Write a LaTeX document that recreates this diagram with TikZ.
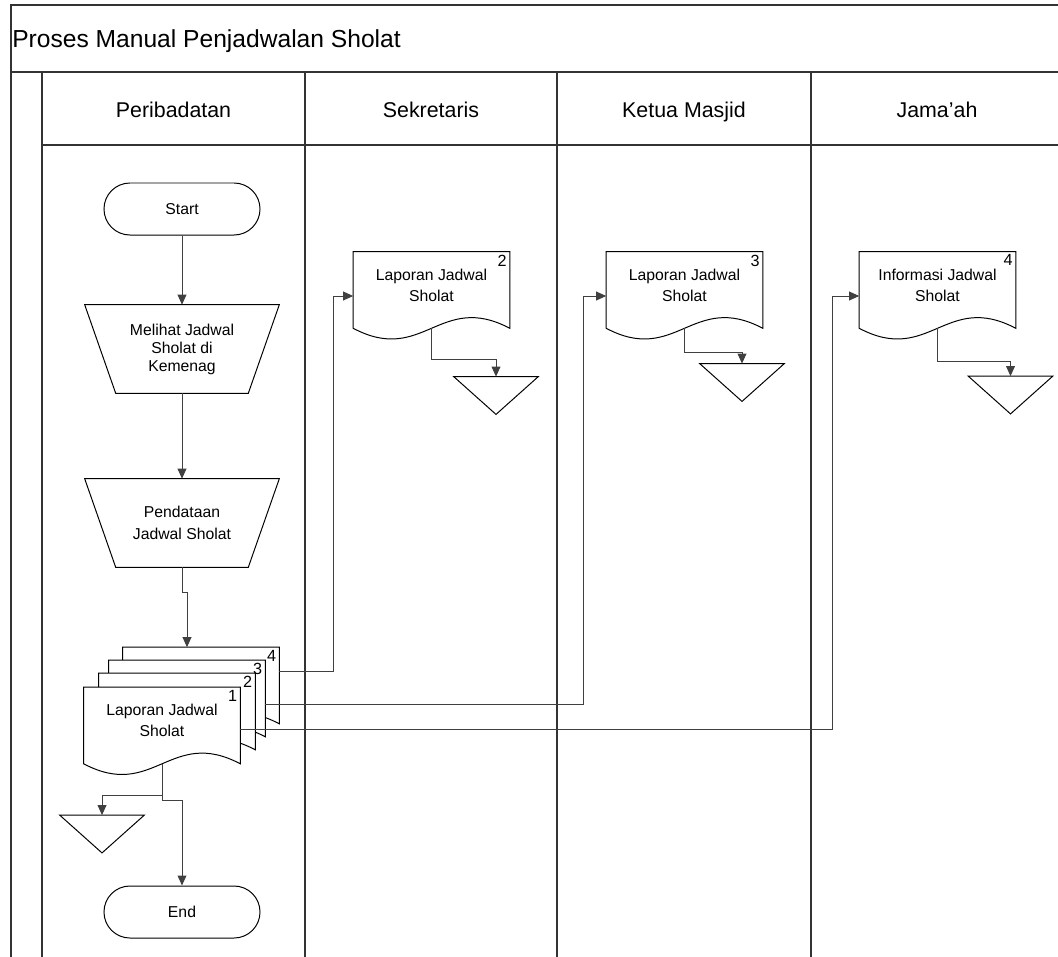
\documentclass[tikz,border=0pt]{standalone}
\usepackage{fontspec}
\setmainfont{Liberation Sans}
\usetikzlibrary{arrows.meta,backgrounds}

\begin{document}
\begin{tikzpicture}[x=0.025cm, y=-0.025cm,
    terminal/.style={
        rectangle,
        rounded corners=0.65cm,
        draw,
        line width=0.7pt,
        minimum width=3.9cm,
        minimum height=1.3cm,
        font=\fontsize{11.2}{12.8}\selectfont
    },
    manual/.style={
        rectangle,
        minimum width=4.85cm,
        minimum height=2.2cm,
        inner sep=0pt,
        align=center,
        font=\fontsize{11.2}{12.8}\selectfont
    },
    docu/.style={
        rectangle,
        minimum width=3.9cm,
        minimum height=1.9cm,
        inner sep=0pt,
        align=center,
        text depth=0.25cm,
        font=\fontsize{11.2}{15}\selectfont,
        label={[anchor=north east, inner sep=2pt, font=\fontsize{11.5}{13}\selectfont]north east:#1}
    },
    merge/.style={
        rectangle,
        minimum width=2.1cm,
        minimum height=0.93cm,
        inner sep=0pt
    },
    outline/.style={draw=black, line width=0.7pt, fill=white},
    lanehead/.style={anchor=base, font=\fontsize{15.2}{18}\selectfont},
    frame/.style={draw=black!80, line width=1pt},
    flow/.style={draw=black!75, line width=0.7pt, -{Triangle[length=2.5mm, width=2.2mm]}}
]
\useasboundingbox (0,0) rectangle (1058,956);

% Pool and lanes
\draw[frame] (11,975) -- (11,5) -- (1075,5);
\draw[frame] (11,72) -- (1075,72);
\draw[frame] (42,145) -- (1075,145);
\foreach \x in {42,305,557,811}
    \draw[frame] (\x,72) -- (\x,975);
\node[anchor=base west, inner sep=0pt, font=\fontsize{17.5}{20}\selectfont] (judul) at (12,47) {Proses Manual Penjadwalan Sholat};
\node[lanehead] (hperi) at (173.5,117) {Peribadatan};
\node[lanehead] (hsek) at (431,117) {Sekretaris};
\node[lanehead] (hketua) at (684,117) {Ketua Masjid};
\node[lanehead] (hjamaah) at (937,117) {Jama’ah};

% Peribadatan
\node[terminal] (start) at (182,209) {Start};
\node[manual] (melihat) at (182,349) {Melihat Jadwal\\Sholat di\\Kemenag};
\node[manual, font=\fontsize{11.2}{15.5}\selectfont] (pendataan) at (182,523) {Pendataan\\Jadwal Sholat};
\node[docu=4] (lap4) at (201,685.5) {};
\node[docu=3] (lap3) at (187,698.5) {};
\node[docu=2] (lap2) at (177,711.5) {};
\node[docu=1] (lap1) at (162,725.5) {Laporan Jadwal\\Sholat};
\node[merge] (t1) at (102,834) {};
\node[terminal] (ende) at (182,912) {End};

% Other lanes
\node[docu=2] (doc2) at (431.5,290) {Laporan Jadwal\\Sholat};
\node[merge] (t2) at (496,395.5) {};
\node[docu=3] (doc3) at (684.5,290) {Laporan Jadwal\\Sholat};
\node[merge] (t3) at (742,382.5) {};
\node[docu=4] (doc4) at (937.5,290) {Informasi Jadwal\\Sholat};
\node[merge] (t4) at (1010.5,395) {};

% Shape outlines
\begin{scope}[on background layer]
\foreach \m in {melihat,pendataan}
    \draw[outline] (\m.north west) -- (\m.north east) -- ([xshift=-0.775cm]\m.south east) -- ([xshift=0.775cm]\m.south west) -- cycle;
\foreach \d in {lap4,lap3,lap2,lap1,doc2,doc3,doc4}
    \draw[outline] (\d.south west) -- (\d.north west) -- (\d.north east) -- (\d.south east)
        .. controls +(-70,-37) and +(70,37) .. (\d.south west) -- cycle;
\foreach \t in {t1,t2,t3,t4}
    \draw[outline] (\t.north west) -- (\t.north east) -- (\t.south) -- cycle;
\end{scope}

% Arrows
\draw[flow] (start.south) -- (melihat.north);
\draw[flow] (melihat.south) -- (pendataan.north);
\draw[flow] (pendataan.south) -- ++(0,25) -| ([xshift=-0.35cm]lap4.north);
\draw[flow] ([yshift=0.36cm]lap4.east) -- ++(54,0) |- ([yshift=-0.15cm]doc2.west);
\draw[flow] ([yshift=-0.16cm]lap3.east) -- ++(318,0) |- ([yshift=-0.15cm]doc3.west);
\draw[flow] ([yshift=-0.11cm]lap1.east) -- ++(592,0) |- ([yshift=-0.15cm]doc4.west);
\draw[flow] (lap1.south) -- ++(0,32) -| (t1.north);
\draw[flow] (lap1.south) -- ++(0,37) -| (ende.north);
\draw[flow] (doc2.south) -- ++(0,31) -| (t2.north);
\draw[flow] (doc3.south) -- ++(0,24) -| (t3.north);
\draw[flow] (doc4.south) -- ++(0,33) -| (t4.north);

\end{tikzpicture}
\end{document}
